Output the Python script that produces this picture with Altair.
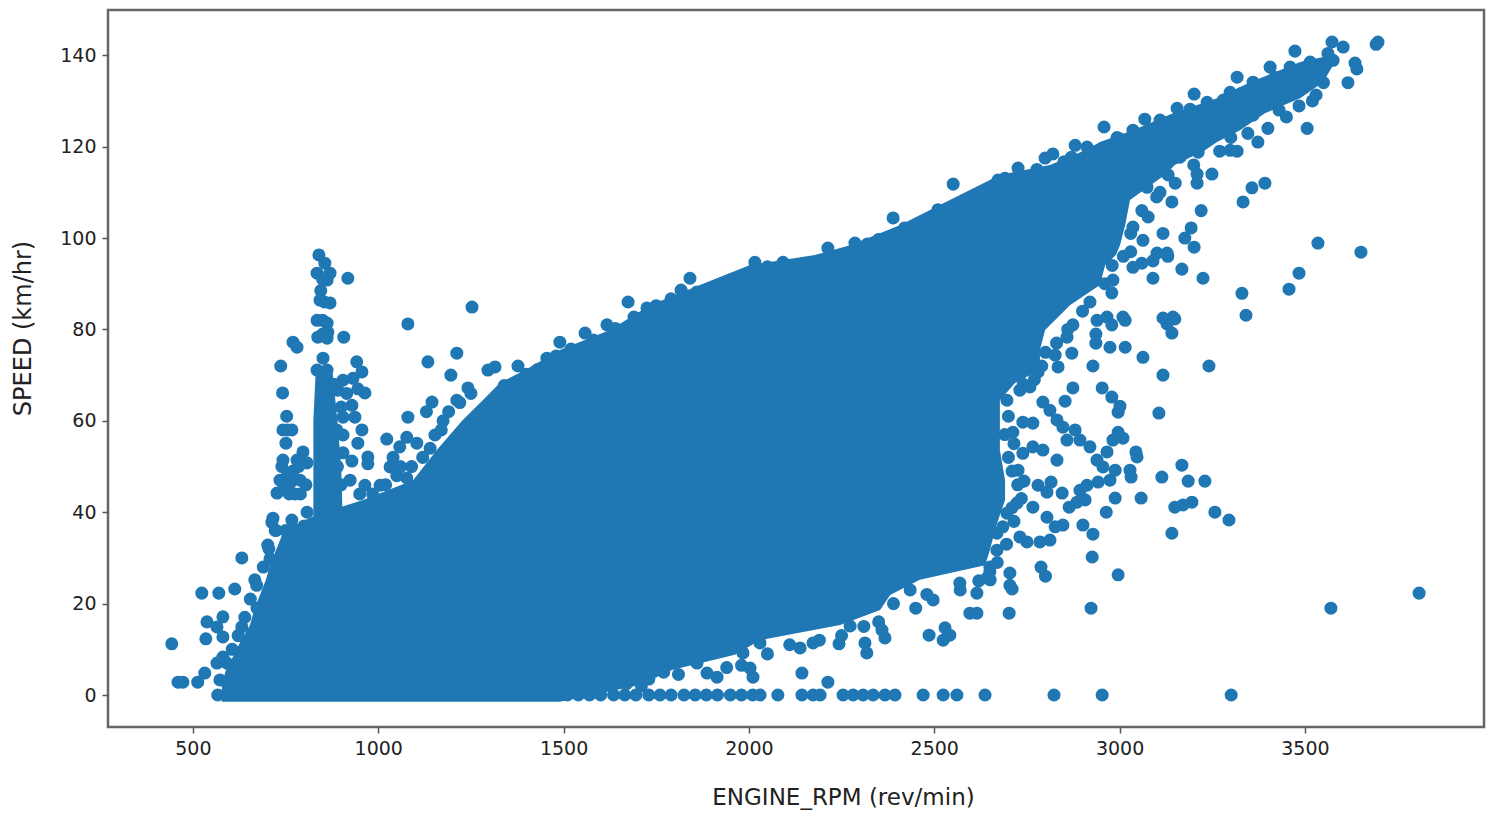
import altair as alt
import pandas as pd

BLUE = "#1f77b4"
x_ticks = [500, 1000, 1500, 2000, 2500, 3000, 3500]
y_ticks = [0, 20, 40, 60, 80, 100, 120, 140]

# solid mass of overlapping points: for each speed, the rpm span it covers
body_speed = [-1.5, 2.2, 5.5, 8.8, 12.0, 15.3, 18.6, 21.9, 25.2, 28.4, 31.7, 36.1, 39.4, 42.7, 47.0, 53.6, 60.2, 64.5, 68.3, 71.1, 75.5, 79.9, 85.3, 89.7, 94.1, 96.3, 98.4, 102.8, 108.3, 113.8, 116.0, 119.2, 121.0, 123.6, 127.3, 130.6, 134.1, 138.5, 139.6]
body_low = [578, 578, 589, 611, 630, 654, 665, 681, 697, 708, 724, 746, 832, 959, 1094, 1158, 1228, 1282, 1328, 1396, 1490, 1625, 1733, 1868, 2003, 2178, 2273, 2407, 2542, 2677, 2812, 2907, 2947, 3036, 3144, 3263, 3352, 3487, 3549]
body_high = [1490, 1706, 1792, 1962, 2030, 2246, 2354, 2381, 2461, 2637, 2650, 2664, 2677, 2691, 2691, 2677, 2677, 2677, 2718, 2785, 2785, 2799, 2866, 2947, 2961, 2990, 3001, 3015, 3028, 3122, 3149, 3230, 3263, 3325, 3392, 3487, 3549, 3581, 3557]

# solid spike of points near 850 rev/min
spike_speed = [36, 50, 60, 72]
spike_low = [825, 825, 825, 832]
spike_high = [905, 900, 890, 875]

zero_rpm = [1510, 1540, 1570, 1600, 1635, 1665, 1695, 1730, 1760, 1790, 1825, 1855, 1885, 1915, 1950, 1980, 2010, 2030, 2078, 2143, 2173, 2192, 2254, 2281, 2308, 2335, 2367, 2394, 2470, 2524, 2561, 2637, 2823, 2953, 3301]

spike = [[840, 96.3], [856, 94.5], [835, 92.3], [870, 92.3], [862, 90.8], [850, 91], [845, 88.5], [918, 91.2], [843, 86.4], [855, 86], [870, 85.8], [835, 82], [850, 82], [862, 81.4], [864, 79.4], [850, 79], [837, 78.3], [862, 78.1], [907, 78.3], [770, 77.2], [781, 76.1], [737, 72], [742, 66.1], [753, 61], [743, 58], [755, 58], [767, 58], [751, 55.1], [851, 73.7], [835, 71.1], [862, 71.1],
         [942, 72.9], [956, 70.7], [932, 69.3], [905, 68.9], [945, 67], [964, 66.1], [891, 66.7], [929, 63.4], [937, 60.8], [905, 60.8], [956, 58], [945, 55.1], [905, 56.9], [929, 51.2], [972, 52.1], [972, 50.6], [900, 63], [888, 58], [890, 50], [900, 46], [915, 66], [880, 68], [905, 53]]
left_mid = [[1253, 84.9], [1080, 81.2], [1212, 74.8], [1134, 72.9], [1196, 70], [1296, 71.1], [1315, 71.8], [1145, 64.1], [1080, 60.8], [1242, 67.2], [1212, 64.5], [1023, 56], [1077, 56.4], [1058, 54.3], [1153, 56.9], [1104, 55.1], [1032, 49.9], [1077, 47.5], [1005, 45.9], [964, 45.9], [924, 47], [716, 38.7], [767, 38.3], [808, 40], [797, 53.2], [781, 51.4], [743, 51.4], [735, 47], [727, 44.2], [762, 46.4], [789, 47], [808, 50.8], [1130, 62], [1175, 60],
            [740, 50], [755, 48], [770, 49], [785, 50], [745, 45], [760, 44], [775, 44], [790, 44], [805, 46], [725, 36], [750, 36], [775, 36], [800, 37],
            [950, 44], [985, 44], [1020, 46], [1050, 48], [1060, 50], [1040, 52], [1090, 50], [1120, 52], [1140, 54], [1170, 58], [1190, 62], [1220, 64], [1250, 66]]
left_low = [[443, 11.2], [460, 2.8], [473, 2.8], [513, 2.8], [532, 4.8], [535, 12.3], [538, 16], [581, 17.1], [565, 7], [581, 8.3], [565, 14.9], [581, 12.7], [524, 22.3], [570, 22.3], [613, 23.2], [632, 30], [667, 25.2], [673, 19], [632, 14.9], [702, 32.8], [708, 29.8], [573, 3.3], [567, 0], [713, 37.8],
            [592, 7], [606, 10], [622, 13], [640, 17], [655, 21], [672, 24], [690, 28], [705, 32], [722, 36]]
top_edge = [[1377, 72], [1455, 73.7], [1490, 77.2], [1558, 79.2], [1617, 81], [1674, 86], [1725, 84.7], [1841, 91.2], [1817, 88.6], [1900, 88.6], [2016, 94.7], [2092, 94.7], [2213, 97.8], [2286, 98.9], [2389, 104.4], [2551, 111.8], [2672, 112.7], [2726, 115.3], [2691, 113.1], [2777, 115], [2799, 117.5], [2820, 118.4], [2880, 120.3], [2958, 124.3], [3068, 126], [3201, 131.5], [3317, 135.2], [3473, 140.9], [3573, 142.9], [3603, 141.8], [2912, 119.9], [2993, 122], [3036, 123.6], [3109, 125.8], [3155, 128.4], [3236, 129.7], [3298, 131.9], [3360, 134.1], [3406, 137.4], [3460, 137.4], [3514, 138.5], [3562, 140.4], [3576, 138.9]]
top_fill = [[1340, 67.7], [1400, 70.2], [1430, 71.2], [1480, 74.2], [1520, 75.7], [1580, 77.7], [1640, 80.2], [1690, 82.7], [1750, 85.2], [1790, 86.7], [1860, 88.2], [1930, 89.7], [1960, 90.2], [2000, 91.7], [2050, 93.7], [2120, 92.7], [2160, 94.2], [2250, 96.2], [2320, 98.7], [2350, 99.7], [2420, 102.2], [2470, 103.2], [2510, 106.2], [2590, 107.2], [2630, 109.2], [2660, 110.7], [2740, 112.2], [2790, 113.7], [2850, 116.7], [2870, 117.7], [2950, 119.2], [3000, 121.7], [3080, 123.2], [3130, 125.2], [3190, 128.2], [3280, 130.2], [3330, 131.7], [3420, 135.2], [3500, 137.2]]
top_lower = [[3530, 131.3], [3484, 128.9], [3430, 128], [3360, 126.9], [3346, 122.9], [3212, 118.8], [3163, 117.7], [3131, 113.8], [3074, 111.1], [3036, 102.4], [3063, 99.5], [3101, 96.7], [3090, 95], [3130, 96], [3060, 94.5], [3030, 97], [3036, 93.6], [2982, 90.8]]
right_fill = [[3550, 134], [3520, 130], [3450, 126.5], [3400, 124], [3300, 122], [3270, 119], [3200, 116], [3150, 112], [3100, 109], [3060, 106], [3030, 101], [3010, 96], [2980, 94], [2960, 90], [2920, 86], [2900, 84], [2860, 80], [2830, 77], [2800, 75], [2790, 72], [2770, 69], [2740, 68],
              [2700, 61], [2690, 57], [2715, 55], [2700, 52], [2710, 49], [2725, 46], [2735, 43], [2710, 41], [2715, 38], [2695, 33], [2670, 29], [2650, 27], [2620, 25], [2570, 23],
              [2480, 22], [2450, 19], [2390, 20], [2350, 16], [2310, 15], [2250, 13], [2190, 12], [2110, 11], [2050, 9], [1980, 6.5], [1940, 6], [1860, 7], [1810, 4.5], [1770, 5], [1710, 2], [1670, 2.5], [1610, 3.5], [1560, 2.5], [1650, 6], [1730, 3.5]]
far_upper = [[3692, 142.4], [3697, 142.9], [3635, 138.3], [3640, 137], [3616, 134], [3506, 124], [3373, 121], [3298, 119.2], [3317, 119], [3249, 114], [3209, 114], [3209, 112], [3392, 112], [3357, 111], [3333, 107.9], [3220, 106], [3193, 102.2], [3176, 100], [3201, 98], [3117, 101], [3535, 98.9], [3651, 96.9], [3484, 92.3], [3457, 88.8], [3168, 93.2], [3225, 91.2], [3090, 91.2], [3330, 87.9], [3341, 83.1], [3128, 96.7], [3141, 107.9], [3109, 110], [3077, 104.6], [3144, 82.7], [3117, 82.5], [2979, 88], [3009, 82.7], [2966, 82.7]]
right_cloud = [[3149, 82.3], [3128, 81.2], [3141, 79.2], [3063, 73.9], [3241, 72], [3117, 70], [3106, 61.7], [2996, 61.9], [3001, 63.2], [2979, 65.2], [2953, 67.2], [2874, 67.2], [2853, 64.3], [2928, 72], [3015, 76.1], [2974, 76.1], [2936, 77], [2936, 79], [3015, 82], [2979, 81], [2939, 82], [2871, 74.8], [2834, 71.8], [2826, 74.4], [2858, 78.3], [2874, 81], [2766, 73.3], [2780, 70.7], [2758, 67.4], [2731, 66.7], [2704, 69.6], [2696, 64.5], [2793, 64.1], [2812, 62.3], [2831, 60.2], [2847, 58.6], [2880, 58], [2893, 55.8], [2920, 54.3], [2939, 51.4], [2955, 49.9], [2996, 57.5], [3009, 56.2], [2982, 55.8], [2966, 53.2], [3044, 53.2], [3047, 52.1], [2766, 59.5], [2739, 59.7], [2712, 57.5], [2766, 54.3], [2793, 53.6], [2739, 52.9], [2831, 51.4], [2858, 55.8], [2726, 49.2], [2742, 46.8], [2780, 45.9], [2815, 46.6], [2804, 44.4], [2845, 44.2], [2893, 44.8], [2912, 45.9], [2942, 46.6], [2974, 47], [2988, 49.2], [3028, 49.2], [3031, 47.7], [2907, 42.7], [2885, 42.2], [2864, 41.1], [2988, 43.1], [2964, 40], [3058, 43.1], [3114, 47.7], [3168, 50.3], [3185, 46.8], [3230, 46.8], [3195, 42.2], [3171, 41.6], [3149, 41.1], [3257, 40], [3295, 38.3], [3141, 35.4], [2926, 30.2], [2901, 37.2], [2928, 35.2], [2847, 37.2], [2826, 36.8], [2812, 33.9], [2785, 33.5], [2750, 33.5], [2731, 34.6], [2804, 38.9], [2766, 41.1], [2723, 42], [2696, 39.8], [2685, 36.8], [2669, 35.4], [2669, 31.7], [3570, 19], [3808, 22.3], [2996, 26.3], [2923, 19]]
low_right = [[2143, 4.8], [2213, 2.8], [2030, 11.4], [2138, 10.3], [2173, 11.4], [2243, 11.2], [2273, 15.1], [2313, 11.4], [2318, 9.2], [2367, 12.5], [2359, 14.2], [2435, 23], [2615, 22.3], [2596, 17.9], [2615, 17.9], [2702, 17.9], [2710, 23.2], [2486, 13.1], [2529, 14.7], [2542, 13.1], [2524, 12], [2003, 5.9], [2011, 3.9], [1914, 3.9], [1887, 4.8], [1984, 9.2], [2497, 20.8], [2569, 24.5], [2651, 25.2], [2704, 26.7], [2800, 26], [2788, 28], [2704, 24], [2642, 25.6], [2650, 28]]

all_pairs = spike + left_mid + left_low + top_edge + top_fill + top_lower + right_fill + far_upper + right_cloud + low_right + [[r, 0] for r in zero_rpm]
points = pd.DataFrame(all_pairs, columns=["rpm", "speed"])
body = pd.DataFrame({"speed": body_speed, "low": body_low, "high": body_high})
spike_df = pd.DataFrame({"speed": spike_speed, "low": spike_low, "high": spike_high})

x_scale = alt.Scale(domain=[271, 3983], nice=False, zero=False)
y_scale = alt.Scale(domain=[-7, 149.9], nice=False, zero=False)

x_axis = alt.Axis(values=x_ticks, grid=False, domain=False, tickColor="#555555", tickWidth=1.5, tickSize=6,
                  labelFont="DejaVu Sans", labelFontSize=19, labelColor="#222222", labelPadding=6, format="d",
                  title="ENGINE_RPM (rev/min)", titleFont="DejaVu Sans", titleFontSize=23, titleFontWeight="normal",
                  titleColor="#222222", titleX=735, titleY=70, titleBaseline="middle")
y_axis = alt.Axis(values=y_ticks, grid=False, domain=False, tickColor="#555555", tickWidth=1.5, tickSize=6,
                  labelFont="DejaVu Sans", labelFontSize=19, labelColor="#222222", labelPadding=6,
                  title="SPEED  (km/hr)", titleFont="DejaVu Sans", titleFontSize=24, titleFontWeight="normal",
                  titleColor="#222222", titleX=-85, titleY=318, titleBaseline="middle")

area = alt.Chart(body).mark_area(orient="horizontal", color=BLUE, interpolate="linear").encode(
    y=alt.Y("speed:Q", scale=y_scale, axis=y_axis),
    x=alt.X("low:Q", scale=x_scale, axis=x_axis),
    x2="high:Q",
)
spike_area = alt.Chart(spike_df).mark_area(orient="horizontal", color=BLUE, interpolate="linear").encode(
    y=alt.Y("speed:Q", scale=y_scale, axis=y_axis),
    x=alt.X("low:Q", scale=x_scale, axis=x_axis),
    x2="high:Q",
)
scatter = alt.Chart(points).mark_circle(color=BLUE, opacity=1, size=170).encode(
    x=alt.X("rpm:Q", scale=x_scale, axis=x_axis),
    y=alt.Y("speed:Q", scale=y_scale, axis=y_axis),
)

chart = (area + spike_area + scatter).properties(
    width=1376, height=717,
    autosize=alt.AutoSizeParams(type="none"),
    padding={"left": 100, "top": 2, "right": 2, "bottom": 85},
    background="white",
).configure_view(stroke="#666666", strokeWidth=2.5)

chart.save("out.html", embed_options={"renderer": "svg", "actions": False})
